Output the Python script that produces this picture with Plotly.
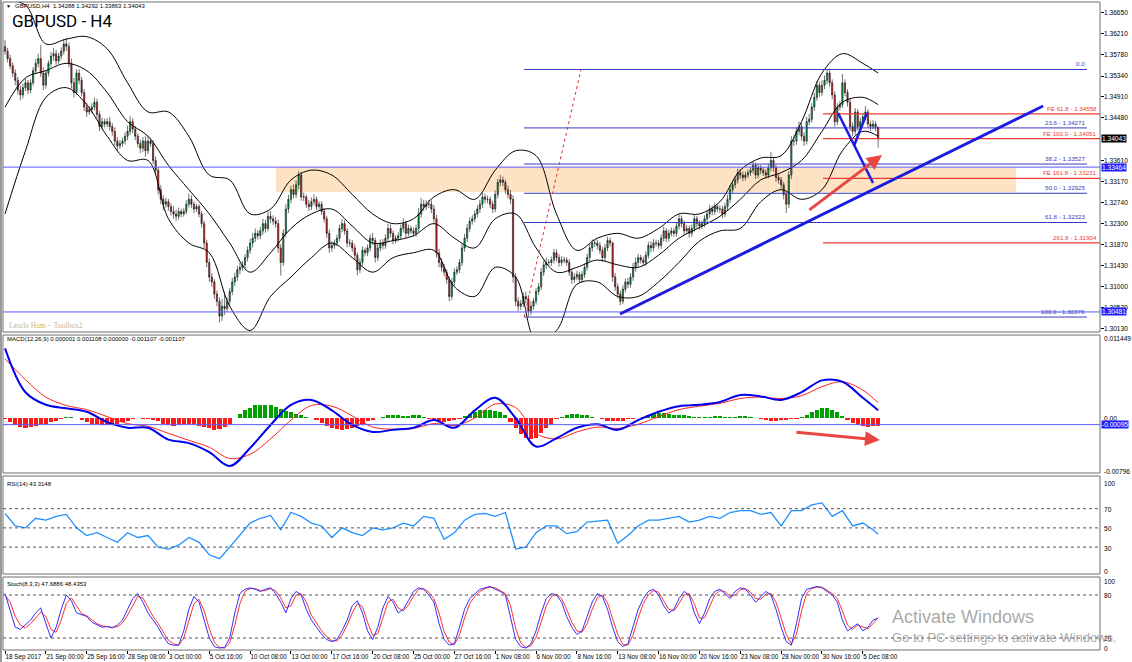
import plotly.graph_objects as go

W, H = 1132, 662
def px(x): return x / W
def py(y): return 1 - y / H

# ---------------- price data (H4 bars, 18 Sep 2017 08:00 .. 6 Dec 2017 08:00) ----------------
opens = [1.3595,1.3585,1.3570,1.3555,
1.3540,1.3525,1.3505,1.3495,1.3510,1.3520,
1.3505,1.3520,1.3545,1.3560,1.3570,1.3540,
1.3515,1.3540,1.3560,1.3575,1.3580,1.3565,
1.3575,1.3585,1.3600,1.3595,1.3560,1.3520,
1.3500,1.3540,1.3525,1.3500,1.3470,1.3460,
1.3465,1.3470,1.3480,1.3455,1.3430,1.3440,
1.3435,1.3440,1.3430,1.3420,1.3400,1.3390,
1.3395,1.3400,1.3410,1.3420,1.3440,1.3425,
1.3410,1.3395,1.3385,1.3400,1.3380,1.3400,
1.3395,1.3360,1.3340,1.3300,1.3280,1.3270,
1.3275,1.3265,1.3255,1.3250,1.3245,1.3255,
1.3250,1.3255,1.3270,1.3280,1.3270,1.3260,
1.3265,1.3250,1.3230,1.3190,1.3150,1.3120,
1.3110,1.3085,1.3070,1.3040,1.3060,1.3055,
1.3070,1.3090,1.3110,1.3120,1.3135,1.3140,
1.3145,1.3160,1.3175,1.3190,1.3200,1.3210,
1.3205,1.3215,1.3230,1.3220,1.3245,1.3240,
1.3235,1.3230,1.3180,1.3150,1.3210,1.3260,
1.3280,1.3300,1.3290,1.3310,1.3330,1.3285,
1.3285,1.3270,1.3265,1.3275,1.3280,1.3265,
1.3270,1.3255,1.3240,1.3210,1.3180,1.3185,
1.3190,1.3200,1.3220,1.3230,1.3215,1.3190,
1.3190,1.3180,1.3165,1.3135,1.3150,1.3175,
1.3170,1.3180,1.3200,1.3195,1.3160,1.3180,
1.3190,1.3185,1.3200,1.3220,1.3210,1.3195,
1.3200,1.3205,1.3220,1.3230,1.3210,1.3220,
1.3215,1.3210,1.3220,1.3250,1.3270,1.3265,
1.3270,1.3270,1.3260,1.3240,1.3170,1.3150,
1.3140,1.3130,1.3115,1.3080,1.3110,1.3130,
1.3135,1.3150,1.3180,1.3200,1.3220,1.3235,
1.3240,1.3250,1.3260,1.3270,1.3285,1.3280,
1.3280,1.3270,1.3260,1.3290,1.3315,1.3320,
1.3315,1.3300,1.3290,1.3280,1.3120,1.3070,
1.3060,1.3065,1.3080,1.3075,1.3050,1.3060,
1.3070,1.3090,1.3100,1.3130,1.3145,1.3150,
1.3150,1.3155,1.3170,1.3160,1.3150,1.3155,
1.3155,1.3150,1.3130,1.3115,1.3120,1.3125,
1.3115,1.3125,1.3140,1.3160,1.3180,1.3190,
1.3190,1.3185,1.3175,1.3160,1.3180,1.3195,
1.3190,1.3120,1.3100,1.3085,1.3070,1.3095,
1.3110,1.3105,1.3120,1.3140,1.3150,1.3160,
1.3155,1.3150,1.3165,1.3185,1.3180,1.3190,
1.3190,1.3185,1.3200,1.3215,1.3200,1.3210,
1.3215,1.3210,1.3225,1.3240,1.3230,1.3215,
1.3220,1.3210,1.3220,1.3240,1.3230,1.3225,
1.3230,1.3240,1.3250,1.3260,1.3255,1.3265,
1.3260,1.3260,1.3250,1.3265,1.3280,1.3300,
1.3310,1.3320,1.3335,1.3330,1.3325,1.3330,
1.3335,1.3340,1.3350,1.3330,1.3345,1.3340,
1.3335,1.3330,1.3345,1.3360,1.3345,1.3325,
1.3320,1.3310,1.3290,1.3270,1.3330,1.3400,
1.3400,1.3420,1.3430,1.3410,1.3400,1.3440,
1.3445,1.3470,1.3490,1.3515,1.3500,1.3515,
1.3525,1.3540,1.3520,1.3495,1.3440,1.3470,
1.3475,1.3520,1.3500,1.3480,1.3430,1.3420,
1.3460,1.3430,1.3440,1.3450,1.3460,1.3435,
1.3430,1.3435,1.34288]

highs = [1.3608,1.3592,1.3578,1.3562,
1.3548,1.3532,1.3514,1.3518,1.3529,1.3526,
1.3527,1.3552,1.3569,1.3580,1.3598,1.3552,
1.3546,1.3566,1.3584,1.3592,1.3588,1.3582,
1.3593,1.3610,1.3612,1.3603,1.3570,1.3530,
1.3548,1.3548,1.3532,1.3507,1.3479,1.3472,
1.3478,1.3490,1.3487,1.3462,1.3448,1.3446,
1.3447,1.3449,1.3437,1.3428,1.3408,1.3402,
1.3407,1.3418,1.3432,1.3452,1.3447,1.3431,
1.3416,1.3403,1.3408,1.3410,1.3410,1.3406,
1.3402,1.3368,1.3346,1.3309,1.3288,1.3283,
1.3281,1.3272,1.3266,1.3259,1.3263,1.3261,
1.3262,1.3278,1.3292,1.3288,1.3276,1.3271,
1.3270,1.3256,1.3236,1.3197,1.3158,1.3128,
1.3116,1.3092,1.3078,1.3075,1.3090,1.3078,
1.3097,1.3118,1.3129,1.3143,1.3150,1.3153,
1.3167,1.3183,1.3199,1.3211,1.3220,1.3217,
1.3223,1.3240,1.3238,1.3255,1.3256,1.3247,
1.3244,1.3238,1.3188,1.3218,1.3270,1.3289,
1.3308,1.3311,1.3319,1.3338,1.3336,1.3294,
1.3290,1.3279,1.3284,1.3290,1.3286,1.3276,
1.3276,1.3262,1.3246,1.3218,1.3194,1.3197,
1.3207,1.3228,1.3239,1.3237,1.3221,1.3198,
1.3196,1.3187,1.3171,1.3158,1.3183,1.3181,
1.3187,1.3208,1.3211,1.3201,1.3188,1.3197,
1.3198,1.3208,1.3229,1.3228,1.3216,1.3206,
1.3212,1.3228,1.3241,1.3236,1.3228,1.3226,
1.3222,1.3228,1.3262,1.3283,1.3279,1.3278,
1.3279,1.3278,1.3268,1.3248,1.3178,1.3158,
1.3147,1.3136,1.3121,1.3118,1.3138,1.3142,
1.3157,1.3188,1.3209,1.3229,1.3243,1.3247,
1.3257,1.3268,1.3279,1.3294,1.3292,1.3288,
1.3286,1.3277,1.3298,1.3322,1.3330,1.3327,
1.3321,1.3308,1.3299,1.3288,1.3128,1.3078,
1.3073,1.3088,1.3090,1.3083,1.3070,1.3077,
1.3097,1.3108,1.3139,1.3154,1.3160,1.3157,
1.3162,1.3178,1.3177,1.3167,1.3163,1.3162,
1.3161,1.3157,1.3137,1.3128,1.3133,1.3131,
1.3132,1.3148,1.3168,1.3189,1.3198,1.3197,
1.3197,1.3192,1.3182,1.3188,1.3203,1.3201,
1.3193,1.3128,1.3107,1.3092,1.3103,1.3117,
1.3118,1.3128,1.3149,1.3160,1.3168,1.3166,
1.3162,1.3173,1.3193,1.3194,1.3198,1.3197,
1.3196,1.3208,1.3224,1.3221,1.3218,1.3222,
1.3221,1.3233,1.3249,1.3247,1.3236,1.3227,
1.3226,1.3228,1.3248,1.3246,1.3237,1.3236,
1.3247,1.3258,1.3269,1.3267,1.3273,1.3271,
1.3268,1.3267,1.3273,1.3289,1.3309,1.3318,
1.3327,1.3343,1.3342,1.3337,1.3337,1.3341,
1.3347,1.3358,1.3356,1.3353,1.3351,1.3346,
1.3342,1.3353,1.3378,1.3367,1.3351,1.3331,
1.3326,1.3316,1.3297,1.3338,1.3410,1.3412,
1.3428,1.3440,1.3437,1.3418,1.3450,1.3456,
1.3478,1.3499,1.3524,1.3522,1.3525,1.3535,
1.3548,1.3546,1.3527,1.3502,1.3478,1.3482,
1.3538,1.3527,1.3507,1.3487,1.3438,1.3468,
1.3466,1.3448,1.3458,1.3472,1.3466,1.3442,
1.3443,1.3441,1.34292]

lows = [1.3578,1.3562,1.3548,1.3532,
1.3515,1.3496,1.3484,1.3488,1.3503,1.3497,
1.3499,1.3514,1.3538,1.3552,1.3532,1.3505,
1.3508,1.3533,1.3552,1.3566,1.3557,1.3559,
1.3568,1.3578,1.3586,1.3552,1.3508,1.3490,
1.3495,1.3517,1.3492,1.3462,1.3450,1.3454,
1.3457,1.3463,1.3447,1.3421,1.3424,1.3428,
1.3429,1.3422,1.3411,1.3391,1.3380,1.3384,
1.3388,1.3393,1.3402,1.3412,1.3416,1.3402,
1.3387,1.3375,1.3377,1.3368,1.3373,1.3388,
1.3352,1.3331,1.3290,1.3270,1.3258,1.3263,
1.3257,1.3247,1.3240,1.3235,1.3238,1.3243,
1.3244,1.3249,1.3263,1.3262,1.3252,1.3254,
1.3243,1.3222,1.3180,1.3140,1.3110,1.3100,
1.3075,1.3060,1.3026,1.3030,1.3042,1.3048,
1.3062,1.3083,1.3101,1.3112,1.3126,1.3133,
1.3138,1.3152,1.3168,1.3181,1.3192,1.3197,
1.3198,1.3207,1.3211,1.3214,1.3231,1.3227,
1.3222,1.3170,1.3123,1.3143,1.3202,1.3252,
1.3272,1.3282,1.3283,1.3301,1.3277,1.3276,
1.3262,1.3256,1.3258,1.3268,1.3258,1.3259,
1.3248,1.3232,1.3200,1.3170,1.3172,1.3178,
1.3183,1.3193,1.3212,1.3207,1.3181,1.3182,
1.3172,1.3156,1.3124,1.3128,1.3143,1.3163,
1.3163,1.3173,1.3186,1.3150,1.3153,1.3173,
1.3177,1.3178,1.3193,1.3202,1.3187,1.3189,
1.3193,1.3198,1.3212,1.3201,1.3203,1.3208,
1.3203,1.3203,1.3213,1.3242,1.3256,1.3258,
1.3262,1.3252,1.3232,1.3160,1.3140,1.3131,
1.3122,1.3106,1.3070,1.3073,1.3102,1.3124,
1.3128,1.3143,1.3172,1.3192,1.3213,1.3228,
1.3233,1.3243,1.3252,1.3262,1.3272,1.3272,
1.3262,1.3252,1.3253,1.3282,1.3307,1.3307,
1.3292,1.3282,1.3270,1.3108,1.3060,1.3050,
1.3052,1.3058,1.3066,1.3038,1.3042,1.3053,
1.3063,1.3083,1.3093,1.3122,1.3137,1.3143,
1.3143,1.3148,1.3152,1.3141,1.3143,1.3148,
1.3143,1.3122,1.3106,1.3108,1.3113,1.3108,
1.3108,1.3118,1.3133,1.3152,1.3172,1.3182,
1.3177,1.3167,1.3151,1.3153,1.3173,1.3183,
1.3110,1.3091,1.3076,1.3062,1.3064,1.3088,
1.3097,1.3098,1.3112,1.3131,1.3142,1.3148,
1.3142,1.3143,1.3158,1.3171,1.3173,1.3183,
1.3178,1.3178,1.3193,1.3192,1.3193,1.3204,
1.3203,1.3203,1.3218,1.3222,1.3207,1.3209,
1.3201,1.3203,1.3213,1.3222,1.3217,1.3219,
1.3223,1.3233,1.3242,1.3247,1.3248,1.3253,
1.3252,1.3241,1.3243,1.3257,1.3272,1.3293,
1.3303,1.3313,1.3322,1.3317,1.3319,1.3324,
1.3328,1.3333,1.3322,1.3323,1.3332,1.3328,
1.3322,1.3323,1.3338,1.3337,1.3316,1.3312,
1.3302,1.3280,1.3252,1.3262,1.3322,1.3390,
1.3392,1.3412,1.3401,1.3390,1.3393,1.3433,
1.3438,1.3462,1.3483,1.3491,1.3493,1.3507,
1.3517,1.3512,1.3486,1.3430,1.3433,1.3463,
1.3468,1.3492,1.3471,1.3420,1.3410,1.3413,
1.3422,1.3423,1.3433,1.3443,1.3427,1.3421,
1.3424,1.3420,1.33863]

closes = [1.3585,1.3570,1.3555,1.3540,
1.3525,1.3505,1.3495,1.3510,1.3520,1.3505,
1.3520,1.3545,1.3560,1.3570,1.3540,1.3515,
1.3540,1.3560,1.3575,1.3580,1.3565,1.3575,
1.3585,1.3600,1.3595,1.3560,1.3520,1.3500,
1.3540,1.3525,1.3500,1.3470,1.3460,1.3465,
1.3470,1.3480,1.3455,1.3430,1.3440,1.3435,
1.3440,1.3430,1.3420,1.3400,1.3390,1.3395,
1.3400,1.3410,1.3420,1.3440,1.3425,1.3410,
1.3395,1.3385,1.3400,1.3380,1.3400,1.3395,
1.3360,1.3340,1.3300,1.3280,1.3270,1.3275,
1.3265,1.3255,1.3250,1.3245,1.3255,1.3250,
1.3255,1.3270,1.3280,1.3270,1.3260,1.3265,
1.3250,1.3230,1.3190,1.3150,1.3120,1.3110,
1.3085,1.3070,1.3040,1.3060,1.3055,1.3070,
1.3090,1.3110,1.3120,1.3135,1.3140,1.3145,
1.3160,1.3175,1.3190,1.3200,1.3210,1.3205,
1.3215,1.3230,1.3220,1.3245,1.3240,1.3235,
1.3230,1.3180,1.3150,1.3210,1.3260,1.3280,
1.3300,1.3290,1.3310,1.3330,1.3285,1.3285,
1.3270,1.3265,1.3275,1.3280,1.3265,1.3270,
1.3255,1.3240,1.3210,1.3180,1.3185,1.3190,
1.3200,1.3220,1.3230,1.3215,1.3190,1.3190,
1.3180,1.3165,1.3135,1.3150,1.3175,1.3170,
1.3180,1.3200,1.3195,1.3160,1.3180,1.3190,
1.3185,1.3200,1.3220,1.3210,1.3195,1.3200,
1.3205,1.3220,1.3230,1.3210,1.3220,1.3215,
1.3210,1.3220,1.3250,1.3270,1.3265,1.3270,
1.3270,1.3260,1.3240,1.3170,1.3150,1.3140,
1.3130,1.3115,1.3080,1.3110,1.3130,1.3135,
1.3150,1.3180,1.3200,1.3220,1.3235,1.3240,
1.3250,1.3260,1.3270,1.3285,1.3280,1.3280,
1.3270,1.3260,1.3290,1.3315,1.3320,1.3315,
1.3300,1.3290,1.3280,1.3120,1.3070,1.3060,
1.3065,1.3080,1.3075,1.3050,1.3060,1.3070,
1.3090,1.3100,1.3130,1.3145,1.3150,1.3150,
1.3155,1.3170,1.3160,1.3150,1.3155,1.3155,
1.3150,1.3130,1.3115,1.3120,1.3125,1.3115,
1.3125,1.3140,1.3160,1.3180,1.3190,1.3190,
1.3185,1.3175,1.3160,1.3180,1.3195,1.3190,
1.3120,1.3100,1.3085,1.3070,1.3095,1.3110,
1.3105,1.3120,1.3140,1.3150,1.3160,1.3155,
1.3150,1.3165,1.3185,1.3180,1.3190,1.3190,
1.3185,1.3200,1.3215,1.3200,1.3210,1.3215,
1.3210,1.3225,1.3240,1.3230,1.3215,1.3220,
1.3210,1.3220,1.3240,1.3230,1.3225,1.3230,
1.3240,1.3250,1.3260,1.3255,1.3265,1.3260,
1.3260,1.3250,1.3265,1.3280,1.3300,1.3310,
1.3320,1.3335,1.3330,1.3325,1.3330,1.3335,
1.3340,1.3350,1.3330,1.3345,1.3340,1.3335,
1.3330,1.3345,1.3360,1.3345,1.3325,1.3320,
1.3310,1.3290,1.3270,1.3330,1.3400,1.3400,
1.3420,1.3430,1.3410,1.3400,1.3440,1.3445,
1.3470,1.3490,1.3515,1.3500,1.3515,1.3525,
1.3540,1.3520,1.3495,1.3440,1.3470,1.3475,
1.3520,1.3500,1.3480,1.3430,1.3420,1.3460,
1.3430,1.3440,1.3450,1.3460,1.3435,1.3430,
1.3435,1.3429,1.34043]

# ---------------- indicator readings ----------------
bb_upper = [1.3690,1.3680,1.3600,1.3610,1.3615,1.3590,1.3520,1.3460,1.3460,1.3410,1.3330,1.3320,1.3250,1.3260,1.3320,1.3340,1.3330,1.3290,1.3250,1.3230,1.3240,1.3285,1.3300,1.3280,1.3340,1.3380,1.3370,1.3250,1.3175,1.3200,1.3210,1.3200,1.3220,1.3250,1.3250,1.3275,1.3340,1.3365,1.3370,1.3440,1.3540,1.3580,1.3560,1.3540]
bb_mid = [1.3470,1.3530,1.3545,1.3560,1.3545,1.3500,1.3440,1.3410,1.3350,1.3300,1.3250,1.3190,1.3130,1.3170,1.3220,1.3250,1.3260,1.3225,1.3190,1.3195,1.3205,1.3230,1.3200,1.3180,1.3240,1.3250,1.3180,1.3130,1.3140,1.3155,1.3145,1.3140,1.3165,1.3200,1.3222,1.3245,1.3280,1.3320,1.3335,1.3360,1.3420,1.3480,1.3490,1.3475]
bb_lower = [1.3250,1.3380,1.3490,1.3510,1.3475,1.3410,1.3360,1.3360,1.3240,1.3190,1.3170,1.3060,1.3010,1.3080,1.3120,1.3160,1.3190,1.3160,1.3130,1.3160,1.3170,1.3175,1.3100,1.3080,1.3140,1.3120,1.2990,1.3010,1.3105,1.3110,1.3080,1.3080,1.3110,1.3150,1.3194,1.3215,1.3220,1.3275,1.3300,1.3280,1.3300,1.3380,1.3420,1.3410]
line_idx = list(range(0, 337, 8)) + [342]

macd_main = [0.0100,0.0037,0.0019,0.0014,0.0009,-0.0006,-0.0014,-0.0014,-0.0031,-0.0036,-0.0049,-0.0069,-0.0043,-0.0010,0.0019,0.0026,0.0011,-0.0010,-0.0020,-0.0017,-0.0014,-0.0003,-0.0014,0.0011,0.0029,0.0000,-0.0041,-0.0029,-0.0014,-0.0009,-0.0017,-0.0003,0.0009,0.0017,0.0019,0.0023,0.0033,0.0031,0.0026,0.0037,0.0054,0.0052,0.0029,0.0011]
macd_signal = [0.0085,0.0055,0.0030,0.0018,0.0012,0.0002,-0.0008,-0.0012,-0.0022,-0.0032,-0.0042,-0.0058,-0.0052,-0.0030,-0.0003,0.0018,0.0017,0.0003,-0.0013,-0.0016,-0.0015,-0.0008,-0.0011,0.0000,0.0020,0.0015,-0.0022,-0.0030,-0.0020,-0.0013,-0.0015,-0.0009,0.0002,0.0012,0.0017,0.0021,0.0028,0.0030,0.0028,0.0032,0.0045,0.0052,0.0040,0.0022]

half_idx = list(range(0, 343, 2))
macd_hist = [-0.0002,-0.0006,-0.0010,-0.0013,-0.0014,-0.0013,-0.0011,-0.0009,-0.0008,-0.0006,-0.0004,-0.0002,
0.0001,0.0002,0.0000,
-0.0003,-0.0006,-0.0008,-0.0009,-0.0010,-0.0010,-0.0009,-0.0008,-0.0006,-0.0004,-0.0002,
0.0000,-0.0001,-0.0002,-0.0003,-0.0005,
-0.0008,-0.0010,-0.0011,-0.0010,-0.0009,-0.0008,-0.0009,-0.0011,-0.0013,-0.0015,-0.0017,-0.0016,-0.0013,-0.0008,
0.0000,0.0006,0.0011,0.0015,0.0018,0.0019,0.0019,0.0018,0.0016,0.0013,0.0010,0.0008,0.0006,
0.0004,0.0002,0.0000,-0.0003,
-0.0007,-0.0011,-0.0014,-0.0016,-0.0017,-0.0016,-0.0014,-0.0011,-0.0008,-0.0005,-0.0003,
0.0000,0.0002,0.0004,0.0005,0.0004,0.0003,0.0003,0.0004,0.0005,
0.0002,
-0.0002,-0.0004,-0.0006,-0.0006,-0.0005,-0.0003,-0.0001,
0.0003,0.0006,0.0009,0.0011,0.0012,0.0012,0.0010,0.0008,0.0004,
-0.0006,-0.0015,-0.0023,-0.0028,-0.0030,-0.0028,-0.0022,-0.0015,-0.0008,
-0.0002,0.0002,0.0004,0.0006,0.0006,0.0005,0.0004,0.0002,0.0000,
-0.0002,-0.0004,-0.0005,-0.0005,-0.0004,-0.0002,-0.0001,0.0000,
0.0002,0.0004,0.0006,0.0007,0.0007,0.0006,0.0005,0.0004,0.0004,0.0003,0.0002,0.0001,
0.0001,0.0002,0.0003,0.0003,0.0002,0.0001,0.0002,0.0003,0.0003,0.0002,0.0000,
-0.0002,-0.0003,-0.0004,-0.0004,-0.0003,-0.0003,-0.0002,-0.0001,0.0001,
0.0005,0.0009,0.0012,0.0014,0.0014,0.0012,0.0008,0.0003,
-0.0003,-0.0007,-0.0010,-0.0012,-0.0013,-0.0012,-0.0011]

rsi_idx = list(range(0, 341, 4)) + [342]
rsi_vals = [65,52,50,60,58,62,64,50,42,45,
40,35,45,40,42,30,28,32,40,35,
22,18,30,42,55,60,63,48,66,62,
55,52,40,50,45,42,50,48,50,55,
52,62,60,38,45,58,64,65,62,66,
28,30,45,52,52,44,46,56,57,58,
34,42,52,58,58,60,62,56,58,62,
60,66,68,68,64,66,52,68,68,74,
76,62,68,52,55,48,
43.3]

stoch_k = [82,60,35,32,38,45,55,62,40,20,
35,60,80,72,55,52,50,42,38,35,
36,34,38,45,60,75,82,70,55,45,
35,22,12,10,10,30,60,78,70,45,
20,8,6,7,20,55,82,88,90,88,
85,88,90,82,70,55,75,85,80,60,
45,35,25,18,15,18,30,45,65,72,
55,30,18,35,62,78,70,55,60,72,
85,90,88,80,70,40,18,10,12,35,
60,75,82,88,90,92,88,85,80,50,
18,8,6,12,30,55,75,82,80,70,
50,35,25,30,50,70,82,78,60,35,
15,8,12,35,60,75,85,88,80,65,
55,60,75,85,80,55,40,55,75,85,
88,82,75,85,90,88,80,70,78,85,
80,60,35,15,10,40,75,88,90,92,
90,85,80,70,45,30,35,40,30,35,
45,47.7]
stoch_d = [80,70,50,38,34,40,48,56,50,32,
28,45,68,76,65,54,51,46,40,37,
36,35,36,41,52,66,78,76,62,50,
40,29,17,12,10,20,45,68,74,58,
33,14,7,6,13,38,68,85,89,89,
86,86,89,86,76,62,65,80,82,70,
52,40,30,22,16,16,24,38,55,68,
64,42,24,26,48,70,74,62,58,66,
78,88,89,84,75,55,29,14,11,24,
48,68,78,85,89,91,90,86,82,65,
34,13,7,9,21,42,65,78,81,75,
60,42,30,28,40,60,76,80,69,47,
25,11,10,24,48,68,80,86,84,72,
60,58,68,80,82,68,48,48,65,80,
86,85,78,80,87,89,84,75,74,81,
82,70,48,25,12,25,58,82,89,91,
91,87,82,75,58,38,32,38,35,33,
40,48.4]

# ---------------- labels / levels ----------------
time_labels = ["18 Sep 2017","21 Sep 00:00","25 Sep 16:00","28 Sep 08:00","3 Oct 00:00","5 Oct 16:00",
"10 Oct 08:00","13 Oct 00:00","17 Oct 16:00","20 Oct 08:00","25 Oct 00:00","27 Oct 16:00",
"1 Nov 08:00","6 Nov 00:00","8 Nov 16:00","13 Nov 08:00","16 Nov 00:00","20 Nov 16:00",
"23 Nov 08:00","28 Nov 00:00","30 Nov 16:00","5 Dec 08:00"]
time_ticks = list(range(0, 337, 16))
price_ticks = [1.36650,1.36210,1.35780,1.35340,1.34910,1.34480,1.33610,1.33170,1.32740,1.32300,1.31870,1.31430,1.31000,1.30570,1.30130]
fib_levels = [1.35474,1.34271,1.33527,1.32925,1.32323,1.30376]
fib_texts = ["0.0","23.6 - 1.34271","38.2 - 1.33527","50.0 - 1.32925","61.8 - 1.32323","100.0 - 1.30376"]
fe_levels = [1.34558,1.34051,1.33231,1.31904]
fe_texts = ["FE 61.8 - 1.34558","FE 100.0 - 1.34051","FE 161.8 - 1.33231","261.8 - 1.31904"]
hlines_price = [1.33464, 1.30481]

assert len(opens) == len(highs) == len(lows) == len(closes) == 343
assert len(bb_upper) == len(bb_mid) == len(bb_lower) == len(macd_main) == len(macd_signal) == len(line_idx)
assert len(macd_hist) == len(stoch_k) == len(stoch_d) == len(half_idx)
assert len(rsi_vals) == len(rsi_idx)

bars = list(range(len(closes)))
FONT = "Liberation Sans"
XR = [-0.8, 428.9]
XD = [px(3), px(1100)]
AXF = 6.6   # axis label font size
SMF = 6.0   # small caption font size

fig = go.Figure()
fig.add_trace(go.Candlestick(x=bars, open=opens, high=highs, low=lows, close=closes,
    increasing=dict(line=dict(color="#111111", width=0.6), fillcolor="#00b050"),
    decreasing=dict(line=dict(color="#111111", width=0.6), fillcolor="#e02020"),
    whiskerwidth=0, xaxis="x", yaxis="y", showlegend=False))
for band in (bb_upper, bb_mid, bb_lower):
    fig.add_trace(go.Scatter(x=line_idx, y=band, mode="lines", line=dict(color="black", width=1, shape="spline"),
                             xaxis="x", yaxis="y", showlegend=False))

fig.add_trace(go.Bar(x=half_idx, y=macd_hist, width=1.6,
    marker=dict(color=["#00a000" if v >= 0 else "#ff1a1a" for v in macd_hist], line=dict(width=0)),
    xaxis="x2", yaxis="y2", showlegend=False))
fig.add_trace(go.Scatter(x=line_idx, y=macd_signal, mode="lines", line=dict(color="#ff2020", width=1, shape="spline"),
                         xaxis="x2", yaxis="y2", showlegend=False))
fig.add_trace(go.Scatter(x=line_idx, y=macd_main, mode="lines", line=dict(color="#0000ee", width=2, shape="spline"),
                         xaxis="x2", yaxis="y2", showlegend=False))

fig.add_trace(go.Scatter(x=rsi_idx, y=rsi_vals, mode="lines", line=dict(color="#1e90ff", width=1.3),
                         xaxis="x3", yaxis="y3", showlegend=False))
fig.add_trace(go.Scatter(x=half_idx, y=stoch_d, mode="lines", line=dict(color="#ff3030", width=1),
                         xaxis="x4", yaxis="y4", showlegend=False))
fig.add_trace(go.Scatter(x=half_idx, y=stoch_k, mode="lines", line=dict(color="#3030ff", width=1),
                         xaxis="x4", yaxis="y4", showlegend=False))

ax_common = dict(showgrid=False, zeroline=False, showline=False, range=XR, domain=XD, automargin=False)
yax_common = dict(showgrid=False, zeroline=False, showline=False, side="right", fixedrange=True, automargin=False)

shapes = []
# panel borders
for top, bot in [(2, 332), (335, 473), (476, 574), (577, 650)]:
    shapes.append(dict(type="rect", xref="paper", yref="paper", x0=px(3), x1=px(1100), y0=py(bot), y1=py(top),
                       line=dict(color="#6e6e6e", width=1), layer="above"))
shapes.append(dict(type="rect", xref="paper", yref="paper", x0=0, x1=px(2), y0=0, y1=1,
                   fillcolor="#9a9a9a", line=dict(width=0)))
# supply/demand zone
shapes.append(dict(type="rect", xref="x", yref="y", x0=106.1, x1=396, y0=1.32951, y1=1.33464,
                   fillcolor="#fde3c4", line=dict(width=0), layer="below"))
# full-width horizontal lines
for lv in hlines_price:
    shapes.append(dict(type="line", xref="paper", yref="y", x0=px(3), x1=px(1100), y0=lv, y1=lv,
                       line=dict(color="#5a5aff", width=1)))
shapes.append(dict(type="line", xref="paper", yref="y2", x0=px(3), x1=px(1100), y0=-0.00095, y1=-0.00095,
                   line=dict(color="#5a5aff", width=1)))
# fibonacci retracement
for lv in fib_levels:
    shapes.append(dict(type="line", xref="x", yref="y", x0=203.3, x1=423.8, y0=lv, y1=lv,
                       line=dict(color="#3a3ac0", width=1)))
shapes.append(dict(type="line", xref="x", yref="y", x0=203.3, x1=225.6, y0=1.30376, y1=1.35474,
                   line=dict(color="#e03030", width=1, dash="dot")))
# fibonacci expansion
for lv in fe_levels:
    shapes.append(dict(type="line", xref="x", yref="y", x0=320.4, x1=XR[1], y0=lv, y1=lv,
                       line=dict(color="#f03a30", width=1.3)))
# trend lines
shapes.append(dict(type="line", xref="x", yref="y", x0=240.9, x1=406.6, y0=1.30439, y1=1.34722,
                   line=dict(color="#1c1ce0", width=3)))
shapes.append(dict(type="line", xref="x", yref="y", x0=326.3, x1=340.0, y0=1.34578, y1=1.33137,
                   line=dict(color="#1c1ce0", width=2.5)))
shapes.append(dict(type="line", xref="x", yref="y", x0=332.5, x1=337.6, y0=1.33898, y1=1.34578,
                   line=dict(color="#1c1ce0", width=2.5)))
# dotted levels
for lv in (70, 50, 30):
    shapes.append(dict(type="line", xref="paper", yref="y3", x0=px(3), x1=px(1100), y0=lv, y1=lv,
                       line=dict(color="#555555", width=1, dash="dot")))
for lv in (80, 20):
    shapes.append(dict(type="line", xref="paper", yref="y4", x0=px(3), x1=px(1100), y0=lv, y1=lv,
                       line=dict(color="#555555", width=1, dash="dot")))

ann = []
def txt(x, y, s, size=7.5, color="black", xanchor="left", yanchor="middle", family=FONT, **kw):
    ann.append(dict(x=px(x), y=py(y), xref="paper", yref="paper", text=s, showarrow=False,
                    xanchor=xanchor, yanchor=yanchor, font=dict(size=size, color=color, family=family), **kw))

txt(4, 6, "▼", size=5)
txt(13, 6, "GBPUSD,H4  1.34288 1.34292 1.33863 1.34043", size=SMF)
txt(10, 21, "GBPUSD - H4", size=17, family="Roboto")
txt(7, 325, "Laszlo Hum -  Toolbox2", size=7.5, color="#c9b487", family="Liberation Serif")
txt(5, 339, "MACD(12,26,9) 0.000001 0.001108 0.000000 -0.001107 -0.001107", size=SMF)
txt(5, 484, "RSI(14) 43.3148", size=SMF)
txt(5, 584, "Stoch(8,3,3) 47.6886 48.4353", size=SMF)

# price axis labels (drawn as text so they fit the narrow right margin)
for v in price_ticks:
    ann.append(dict(x=px(1103), y=v, xref="paper", yref="y", text=f"{v:.5f}", showarrow=False,
                    xanchor="left", yanchor="middle", borderpad=0, font=dict(size=AXF, color="black", family=FONT)))
# right-axis labels for lower panels
for y, s in [(338, "0.011449"), (418, "0.00"), (471, "-0.00796")]:
    txt(1102, y, s, size=AXF)
txt(1101, 424, "-0.00095", size=AXF, color="white", bgcolor="#2020ff", borderpad=0)
for y, s in [(483, "100"), (509, "70"), (528, "50"), (548, "30"), (571, "0")]:
    txt(1102, y, s, size=AXF)
for y, s in [(581, "100"), (595, "80"), (638, "20"), (648, "0")]:
    txt(1102, y, s, size=AXF)

# price axis boxes
for lv, bg in [(1.34043, "black"), (1.33464, "#2020ff"), (1.30481, "#2020ff")]:
    ann.append(dict(x=px(1101), y=lv, xref="paper", yref="y", text=f"{lv:.5f}", showarrow=False,
                    xanchor="left", yanchor="middle", bgcolor=bg, borderpad=0,
                    font=dict(size=AXF, color="white", family=FONT)))
for lv, s in zip(fib_levels, fib_texts):
    ann.append(dict(x=px(1087), y=lv, xref="paper", yref="y", text=s, showarrow=False,
                    xanchor="right", yanchor="bottom", font=dict(size=6.2, color="#3a3ac0", family=FONT)))
for lv, s in zip(fe_levels, fe_texts):
    ann.append(dict(x=px(1099), y=lv, xref="paper", yref="y", text=s, showarrow=False,
                    xanchor="right", yanchor="bottom", font=dict(size=6.2, color="#f03a30", family=FONT)))

# arrows
ann.append(dict(x=343.5, y=1.33713, ax=314.5, ay=1.32560, xref="x", yref="y", axref="x", ayref="y",
                text="", showarrow=True, arrowhead=2, arrowsize=1, arrowwidth=3, arrowcolor="#e8473f"))
ann.append(dict(x=342.7, y=-0.00316, ax=309.4, ay=-0.00201, xref="x2", yref="y2", axref="x2", ayref="y2",
                text="", showarrow=True, arrowhead=2, arrowsize=1, arrowwidth=3, arrowcolor="#e8473f"))

# watermark
txt(890, 617, "Activate Windows", size=18, color="rgba(140,140,140,0.75)", family="Liberation Sans")
txt(890, 637, "Go to PC settings to activate Windows.", size=13, color="rgba(140,140,140,0.75)", family="Liberation Sans")

fig.update_layout(
    width=W, height=H, margin=dict(l=0, r=0, t=0, b=0, autoexpand=False),
    paper_bgcolor="white", plot_bgcolor="white", showlegend=False, bargap=0,
    hovermode=False,
    font=dict(family=FONT, size=7, color="black"),
    xaxis=dict(**ax_common, anchor="y", showticklabels=False, rangeslider=dict(visible=False)),
    yaxis=dict(**yax_common, domain=[py(332), py(2)], range=[1.30068, 1.36864], anchor="x",
               tickvals=price_ticks, showticklabels=False,
               ticks="outside", ticklen=3, tickcolor="black"),
    xaxis2=dict(**ax_common, anchor="y2", matches="x", showticklabels=False),
    yaxis2=dict(**yax_common, domain=[py(473), py(335)], range=[-0.00789, 0.01191], anchor="x2", showticklabels=False),
    xaxis3=dict(**ax_common, anchor="y3", matches="x", showticklabels=False),
    yaxis3=dict(**yax_common, domain=[py(574), py(476)], range=[2, 104], anchor="x3", showticklabels=False),
    xaxis4=dict(**ax_common, anchor="y4", matches="x", tickvals=time_ticks, ticktext=time_labels,
                ticks="outside", ticklen=3, tickcolor="black", ticklabelposition="outside right",
                tickangle=0, tickfont=dict(size=6.3)),
    yaxis4=dict(**yax_common, domain=[py(650), py(577)], range=[3.3, 105.1], anchor="x4", showticklabels=False),
    shapes=shapes, annotations=ann,
)
fig.write_html("out.html", config={"displayModeBar": False, "staticPlot": True},
               post_script="document.body.style.margin='0px';document.body.style.overflow='hidden';")
